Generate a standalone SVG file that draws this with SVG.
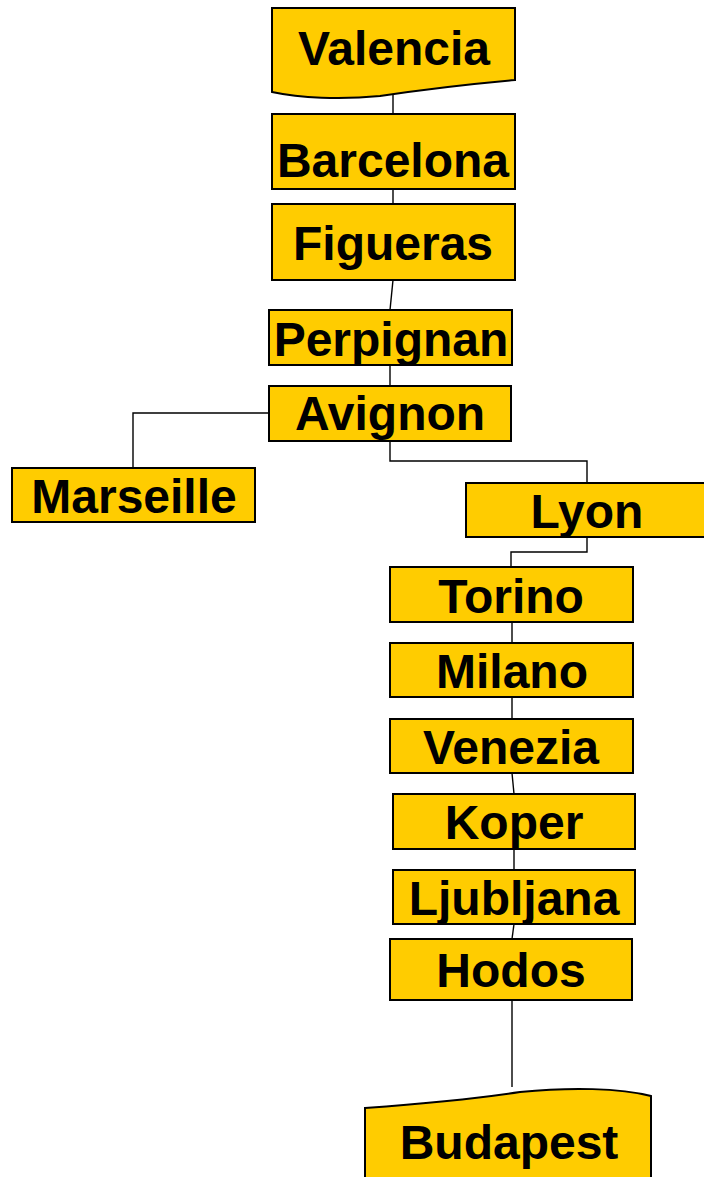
<svg xmlns="http://www.w3.org/2000/svg" width="704" height="1177" viewBox="0 0 704 1177">
<style>
.box{fill:#FFCC00;stroke:#000;stroke-width:2}
.lbl{font-family:"Liberation Sans",Arial,sans-serif;font-weight:bold;font-size:48px;fill:#000;text-anchor:middle}
.conn{fill:none;stroke:#000;stroke-width:1.4}
</style>
<rect width="704" height="1177" fill="#fff"/>
<g id="connectors">
<line class="conn" x1="393" y1="95" x2="393" y2="114"/>
<line class="conn" x1="393" y1="189" x2="393" y2="204"/>
<line class="conn" x1="393" y1="280" x2="390" y2="310"/>
<line class="conn" x1="390" y1="365" x2="390" y2="386"/>
<polyline class="conn" points="269,413 133,413 133,468"/>
<polyline class="conn" points="390,441 390,461 587,461 587,483"/>
<polyline class="conn" points="587,537 587,552 511,552 511,567"/>
<line class="conn" x1="512" y1="622" x2="512" y2="643"/>
<line class="conn" x1="512" y1="697" x2="512" y2="719"/>
<line class="conn" x1="512" y1="773" x2="514" y2="794"/>
<line class="conn" x1="514" y1="849" x2="514" y2="870"/>
<line class="conn" x1="514" y1="924" x2="512" y2="939"/>
<line class="conn" x1="512" y1="1000" x2="512" y2="1087"/>
</g>
<g id="valencia">
<path class="box" d="M272,8 H515 V80 C470,84 420,90 380,96 C340,100 300,98 272,92 Z"/>
<text class="lbl" x="394" y="65">Valencia</text>
</g>
<g id="barcelona">
<rect class="box" x="272" y="114" width="243" height="75"/>
<text class="lbl" x="393" y="177">Barcelona</text>
</g>
<g id="figueras">
<rect class="box" x="272" y="204" width="243" height="76"/>
<text class="lbl" x="393" y="260">Figueras</text>
</g>
<g id="perpignan">
<rect class="box" x="269" y="310" width="243" height="55"/>
<text class="lbl" x="391" y="356">Perpignan</text>
</g>
<g id="avignon">
<rect class="box" x="269" y="386" width="242" height="55"/>
<text class="lbl" x="390" y="430">Avignon</text>
</g>
<g id="marseille">
<rect class="box" x="12" y="468" width="243" height="54"/>
<text class="lbl" x="134" y="513">Marseille</text>
</g>
<g id="lyon">
<rect class="box" x="466" y="483" width="245" height="54"/>
<text class="lbl" x="587" y="528">Lyon</text>
</g>
<g id="torino">
<rect class="box" x="390" y="567" width="243" height="55"/>
<text class="lbl" x="511" y="613">Torino</text>
</g>
<g id="milano">
<rect class="box" x="390" y="643" width="243" height="54"/>
<text class="lbl" x="512" y="688">Milano</text>
</g>
<g id="venezia">
<rect class="box" x="390" y="719" width="243" height="54"/>
<text class="lbl" x="511" y="764">Venezia</text>
</g>
<g id="koper">
<rect class="box" x="393" y="794" width="242" height="55"/>
<text class="lbl" x="514" y="839">Koper</text>
</g>
<g id="ljubljana">
<rect class="box" x="393" y="870" width="242" height="54"/>
<text class="lbl" x="514" y="915">Ljubljana</text>
</g>
<g id="hodos">
<rect class="box" x="390" y="939" width="242" height="61"/>
<text class="lbl" x="511" y="987">Hodos</text>
</g>
<g id="budapest">
<path class="box" d="M365,1108 C420,1104 480,1098 520,1092 C570,1087 620,1088 651,1096 V1180 H365 Z"/>
<text class="lbl" x="509" y="1159">Budapest</text>
</g>
</svg>
